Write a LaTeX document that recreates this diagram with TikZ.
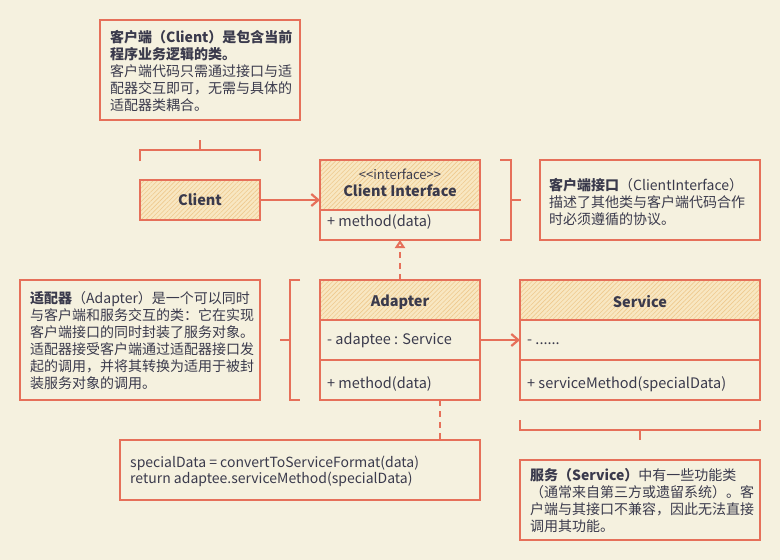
\documentclass[tikz,border=0pt]{standalone}
\usepackage{fontspec}
\setmainfont{Noto Sans CJK SC}
\usetikzlibrary{arrows.meta,patterns.meta,calc}
\definecolor{bg}{HTML}{F5F1DF}
\definecolor{stroke}{HTML}{E6705A}
\definecolor{hatchbg}{HTML}{F8E7C2}
\definecolor{hatchln}{HTML}{EFC98E}
\definecolor{ink}{HTML}{3A3A4C}
\tikzset{
  box/.style={draw=stroke, line width=1.4pt, anchor=north west, inner sep=0pt, outer sep=0pt},
  sepline/.style={draw=stroke, line width=1.4pt},
  brk/.style={draw=stroke, line width=2.6pt, line join=miter},
  hatch/.style={fill=hatchbg, postaction={pattern={Lines[angle=45,distance=3.2pt,line width=0.6pt]}, pattern color=hatchln}},
  notetext/.style={text=ink, font=\fontsize{14}{17}\selectfont, align=left, anchor=north west, inner sep=0pt},
  codetext/.style={text=ink, font=\fontsize{14}{16}\selectfont, align=left, anchor=north west, inner sep=0pt},
  clstitle/.style={text=ink, font=\fontsize{14.5}{17}\selectfont\bfseries, inner sep=0pt},
  stereo/.style={text=ink, font=\fontsize{13}{15}\selectfont, inner sep=0pt},
  member/.style={text=ink, font=\fontsize{14.5}{17}\selectfont, anchor=west, inner sep=0pt},
  conn/.style={draw=stroke, line width=2.6pt},
  assoc/.style={conn, -{Straight Barb[length=7pt,width=12pt,line width=2.2pt]}},
  realize/.style={conn, dash pattern=on 6pt off 5pt, -{Triangle[length=8pt,width=10pt,line width=2pt,fill=bg]}},
  dashlink/.style={conn, dash pattern=on 6pt off 5pt},
}
\begin{document}
\begin{tikzpicture}[x=1pt,y=-1pt]
\fill[bg] (0,0) rectangle (780,560);
\useasboundingbox (0,0) rectangle (780,560);

% ---------- hatched headers ----------
\path[hatch] (140,180) rectangle (260,220);
\path[hatch] (320,160) rectangle (480,210);
\path[hatch] (320,280) rectangle (480,320);
\path[hatch] (520,280) rectangle (760,320);

% ---------- notes ----------
\node[box, minimum width=200pt, minimum height=100pt] (cnote) at (100,20) {};
\node[notetext] (cnotetxt) at (110,30) {\textbf{客户端（Client）是包含当前}\\\textbf{程序业务逻辑的类。}\\客户端代码只需通过接口与适\\配器交互即可，无需与具体的\\适配器类耦合。};

\node[box, minimum width=220pt, minimum height=80pt] (cinote) at (540,160) {};
\node[notetext] (cinotetxt) at (549,178) {\textbf{客户端接口}（ClientInterface）\\描述了其他类与客户端代码合作\\时必须遵循的协议。};

\node[box, minimum width=240pt, minimum height=120pt] (anote) at (20,280) {};
\node[notetext] (anotetxt) at (30,291) {\textbf{适配器}（Adapter）是一个可以同时\\与客户端和服务交互的类：它在实现\\客户端接口的同时封装了服务对象。\\适配器接受客户端通过适配器接口发\\起的调用，并将其转换为适用于被封\\装服务对象的调用。};

\node[box, minimum width=240pt, minimum height=80pt] (snote) at (520,460) {};
\node[notetext] (snotetxt) at (530,468) {\textbf{服务（Service）}中有一些功能类\\（通常来自第三方或遗留系统）。客\\户端与其接口不兼容，因此无法直接\\调用其功能。};

\node[box, minimum width=360pt, minimum height=60pt] (code) at (120,440) {};
\node[codetext] (codetxt) at (130,456) {specialData = convertToServiceFormat(data)\\return adaptee.serviceMethod(specialData)};

% ---------- Client ----------
\node[box, minimum width=120pt, minimum height=40pt] (client) at (140,180) {};
\node[clstitle] (clienttl) at (200,200) {Client};

% ---------- Client Interface ----------
\node[box, minimum width=160pt, minimum height=80pt] (ci) at (320,160) {};
\draw[sepline] (320,210) -- (480,210);
\node[stereo] (cist) at (400,174) {<{}<interface>{}>};
\node[clstitle] (citl) at (400,191) {Client Interface};
\node[member] (cim) at (327,222) {+ method(data)};

% ---------- Adapter ----------
\node[box, minimum width=160pt, minimum height=120pt] (adapter) at (320,280) {};
\draw[sepline] (320,320) -- (480,320);
\draw[sepline] (320,360) -- (480,360);
\node[clstitle] (adtl) at (400,302) {Adapter};
\node[member] (ada) at (327,340) {- adaptee : Service};
\node[member] (adm) at (327,384) {+ method(data)};

% ---------- Service ----------
\node[box, minimum width=240pt, minimum height=120pt] (service) at (520,280) {};
\draw[sepline] (520,320) -- (760,320);
\draw[sepline] (520,360) -- (760,360);
\node[clstitle] (svtl) at (640,302) {Service};
\node[member] (sva) at (527,342) {- ......};
\node[member] (svm) at (527,384) {+ serviceMethod(specialData)};

% ---------- brackets ----------
\draw[brk] (140,161) -- (140,150) -- (260,150) -- (260,161);
\draw[brk] (200,150) -- (200,140);
\draw[brk] (500,160) -- (511,160) -- (511,240) -- (500,240);
\draw[brk] (511,200) -- (521,200);
\draw[brk] (300,280) -- (290,280) -- (290,400) -- (300,400);
\draw[brk] (290,340) -- (280,340);
\draw[brk] (520,420) -- (520,430) -- (760,430) -- (760,420);
\draw[brk] (640,430) -- (640,440);

% ---------- connectors ----------
\draw[assoc] (client.east) -- (ci.west);
\draw[assoc] (adapter.east) -- (service.west);
\draw[realize] (adapter.north) -- (ci.south);
\coordinate (dd) at ($(adapter.south)!0.5!(adapter.south east)$);
\draw[dashlink] (dd) -- (dd |- code.north);
\end{tikzpicture}
\end{document}
